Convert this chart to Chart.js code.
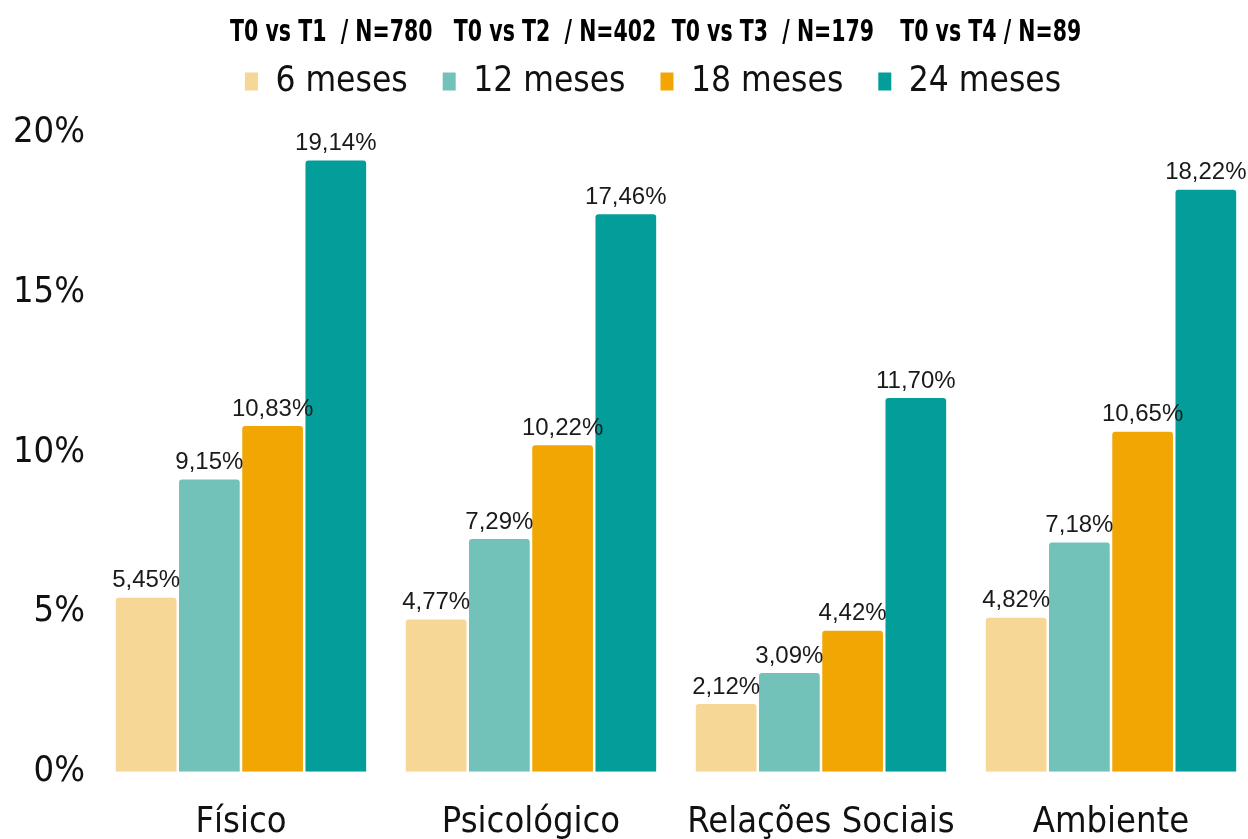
<!DOCTYPE html>
<html>
<head>
<meta charset="utf-8">
<script src="https://cdn.jsdelivr.net/npm/chart.js@4/dist/chart.umd.min.js"></script>
<style>
  html, body { margin: 0; padding: 0; background: #fff; overflow: hidden; }
  #wrap { width: 1248px; height: 839px; position: relative; overflow: hidden; }
</style>
</head>
<body>
<div id="wrap"><canvas id="c" width="1256" height="839"></canvas></div>
<script>
const categories = ["Físico", "Psicológico", "Relações Sociais", "Ambiente"];
const seriesNames = ["6 meses", "12 meses", "18 meses", "24 meses"];
const headerLabels = ["T0 vs T1  / N=780", "T0 vs T2  / N=402", "T0 vs T3  / N=179", "T0 vs T4 / N=89"];
const meses6  = [5.45, 4.77, 2.12, 4.82];
const meses12 = [9.15, 7.29, 3.09, 7.18];
const meses18 = [10.83, 10.22, 4.42, 10.65];
const meses24 = [19.14, 17.46, 11.70, 18.22];
const yTicks = [0, 5, 10, 15, 20];
const colors = ["#F6D795", "#73C2B9", "#F2A604", "#039E9A"];

const seriesValues = [meses6, meses12, meses18, meses24];

const narrow = "'DejaVu Sans Condensed', 'Liberation Sans Narrow', sans-serif";

const fmt = v => v.toFixed(2).replace('.', ',') + '%';

const valueLabels = {
  id: 'valueLabels',
  afterDatasetsDraw(chart) {
    const ctx = chart.ctx;
    ctx.save();
    ctx.font = "24px 'Liberation Sans', Arial, sans-serif";
    ctx.fillStyle = '#1a1a1a';
    ctx.textAlign = 'center';
    ctx.textBaseline = 'bottom';
    chart.data.datasets.forEach((ds, di) => {
      const meta = chart.getDatasetMeta(di);
      meta.data.forEach((bar, i) => {
        ctx.fillText(fmt(ds.data[i]), bar.x, bar.y - 5);
      });
    });
    ctx.restore();
  }
};

const legendSpace = {
  id: 'legendSpace',
  beforeInit(chart) {
    const lg = chart.legend;
    if (!lg) return;
    const fit = lg.fit;
    lg.fit = function () { fit.call(this); this.height += 24; };
  },
  afterLayout(chart) {
    const lg = chart.legend;
    if (!lg) return;
    lg.left += 24;
    lg.right += 24;
  }
};

const headerPlugin = {
  id: 'headerPlugin',
  afterDraw(chart) {
    const lg = chart.legend;
    if (!lg || !lg.legendHitBoxes) return;
    const ctx = chart.ctx;
    ctx.save();
    ctx.font = "bold 30px " + narrow;
    ctx.fillStyle = '#000';
    ctx.textAlign = 'center';
    ctx.textBaseline = 'middle';
    const offs = [5, 21, 21, 21];
    lg.legendHitBoxes.forEach((hb, i) => {
      const cx = hb.left + hb.width / 2 + offs[i];
      ctx.save();
      ctx.translate(cx, 33);
      ctx.scale(0.76, 1);
      ctx.fillText(headerLabels[i], 0, 0);
      ctx.restore();
    });
    ctx.restore();
  }
};

new Chart(document.getElementById('c'), {
  type: 'bar',
  data: {
    labels: categories,
    datasets: seriesNames.map((n, i) => ({
      label: n,
      data: seriesValues[i],
      backgroundColor: colors[i],
      borderWidth: 0,
      borderRadius: { topLeft: 3, topRight: 3, bottomLeft: 0, bottomRight: 0 },
      borderSkipped: 'bottom',
      barPercentage: 0.96,
      categoryPercentage: 0.872
    }))
  },
  options: {
    responsive: false,
    animation: false,
    devicePixelRatio: 1,
    layout: { padding: { top: 29, left: 2, right: 0, bottom: -34 } },
    plugins: {
      legend: {
        position: 'top',
        labels: {
          font: { family: narrow, size: 35 },
          color: '#111',
          boxWidth: 13,
          boxHeight: 18,
          padding: 35
        }
      },
      tooltip: { enabled: false },
      title: { display: false }
    },
    scales: {
      x: {
        grid: { display: false, drawTicks: false },
        border: { display: false },
        ticks: { font: { family: narrow, size: 36 }, color: '#111', padding: 29, maxRotation: 0, minRotation: 0, autoSkip: false }
      },
      y: {
        min: 0, max: 20,
        grid: { display: false, drawTicks: false },
        border: { display: false },
        afterBuildTicks: axis => { axis.ticks = yTicks.map(v => ({ value: v })); },
        ticks: { font: { family: narrow, size: 36 }, color: '#111', padding: 11, callback: v => v + '%' }
      }
    }
  },
  plugins: [valueLabels, legendSpace, headerPlugin]
});
</script>
</body>
</html>
